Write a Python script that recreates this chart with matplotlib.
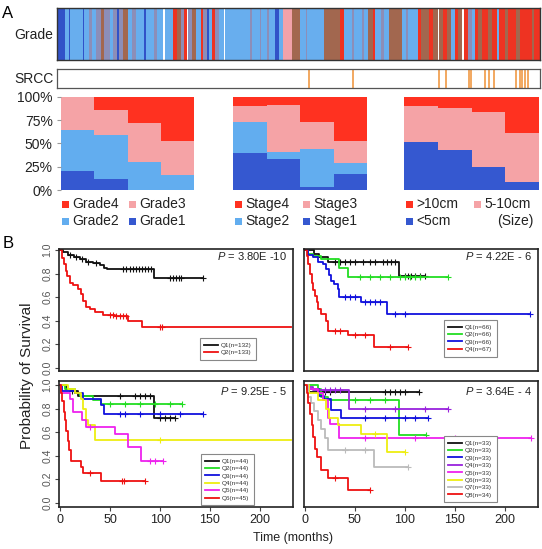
import numpy as np
import matplotlib
matplotlib.use('Agg')
import matplotlib.pyplot as plt
from matplotlib.patches import Rectangle

plt.rcParams['font.family'] = ['Liberation Sans', 'DejaVu Sans']
plt.rcParams['mathtext.fontset'] = 'custom'
plt.rcParams['mathtext.it'] = 'Liberation Sans:italic'
plt.rcParams['mathtext.rm'] = 'Liberation Sans'

W, H = 542, 549

# ---------------- data ----------------
# Grade strip: (category code, relative width) read left to right
strip_segments = [("D", 20), ("L", 10), ("D", 3), ("L", 30), ("D", 3), ("L", 12), ("G", 8), ("L", 10),
                  ("G", 12), ("B", 8), ("G", 15), ("L", 6), ("G", 10), ("D", 4), ("G", 10), ("B", 12),
                  ("L", 10), ("G", 10), ("L", 20), ("D", 4), ("L", 20), ("G", 8), ("L", 15), ("W", 4),
                  ("L", 20), ("R", 10), ("B", 10), ("G", 8), ("R", 6), ("W", 4), ("G", 8), ("B", 10),
                  ("L", 12), ("R", 6), ("G", 10), ("D", 4), ("L", 8), ("R", 8), ("G", 8), ("L", 14),
                  ("W", 3), ("L", 60), ("G", 4), ("L", 20), ("G", 4), ("L", 15), ("G", 4), ("L", 15),
                  ("D", 8), ("L", 12), ("P", 20), ("B", 20), ("L", 15), ("G", 4), ("L", 40), ("B", 40),
                  ("R", 10), ("L", 20), ("G", 4), ("L", 20), ("G", 4), ("L", 10), ("B", 12), ("R", 6),
                  ("L", 15), ("G", 6), ("L", 14), ("B", 30), ("L", 10), ("G", 5), ("L", 25), ("R", 8),
                  ("B", 20), ("R", 8), ("B", 12), ("W", 4), ("B", 10), ("R", 10), ("B", 10), ("L", 8),
                  ("R", 8), ("B", 10), ("W", 4), ("R", 10), ("G", 10), ("L", 8), ("R", 8), ("B", 8),
                  ("R", 15), ("B", 10), ("R", 12), ("L", 6), ("R", 14), ("B", 8), ("R", 20), ("B", 8),
                  ("R", 30), ("B", 6), ("R", 14)]
# SRCC positive samples, position along strip (percent)
srcc_positions = [52.1, 61.3, 79.1, 80.5, 85.4, 85.7, 88.7, 89.5, 90.4, 95.0, 95.8, 96.2, 96.8, 97.5]

# stacked percentages (bottom -> top)
grade_pct = {"Grade1": [20.5, 11.5, 0, 0], "Grade2": [44, 47, 29.5, 16.5],
             "Grade3": [35.5, 27.5, 42.5, 36.5], "Grade4": [0, 14, 28, 47]}
stage_pct = {"Stage1": [40, 33, 3, 17], "Stage2": [33, 8, 40.5, 11.5],
             "Stage3": [17, 50, 29, 24.5], "Stage4": [10, 9, 27.5, 47]}
size_pct = {"<5cm": [51, 42.5, 24.8, 8.9], "5-10cm": [38.7, 45, 59.2, 52],
            ">10cm": [10.3, 12.5, 16, 39.1]}
pct_ticks = [0, 25, 50, 75, 100]
pct_labels = ["0%", "25%", "50%", "75%", "100%"]

# Kaplan-Meier panels
tl_labels = ["Q1(n=132)", "Q2(n=133)"]
tl_times = [[0, 3, 8, 14, 20, 26, 33, 40, 44, 47, 94],
            [0, 2, 4, 6, 7, 10, 13, 18, 21, 23, 26, 30, 35, 43, 55, 68, 82]]
tl_surv = [[1, 0.98, 0.96, 0.94, 0.92, 0.90, 0.89, 0.87, 0.85, 0.835, 0.765],
           [1, 0.93, 0.88, 0.82, 0.78, 0.72, 0.70, 0.67, 0.63, 0.57, 0.52, 0.50, 0.47, 0.45, 0.44, 0.40, 0.35]]
tl_end = [143, 231]
tl_cens = [[10, 16, 22, 28, 36, 63, 66, 70, 73, 76, 79, 82, 85, 88, 91, 110, 113, 116, 119, 121, 143],
           [50, 53, 56, 60, 63, 66, 100, 102]]
tl_p = "3.80E -10"

tr_labels = ["Q1(n=66)", "Q2(n=66)", "Q3(n=66)", "Q4(n=67)"]
tr_times = [[0, 9, 14, 23, 94], [0, 3, 8, 16, 34, 43],
            [0, 3, 8, 13, 18, 21, 24, 26, 29, 33, 34, 56, 82],
            [0, 2, 3, 5, 7, 8, 10, 12, 13, 16, 21, 23, 43, 69]]
tr_surv = [[1, 0.97, 0.94, 0.90, 0.78], [1, 0.97, 0.95, 0.92, 0.85, 0.775],
           [1, 0.96, 0.94, 0.90, 0.88, 0.84, 0.79, 0.74, 0.71, 0.67, 0.60, 0.555, 0.46],
           [1, 0.95, 0.88, 0.80, 0.72, 0.66, 0.61, 0.56, 0.50, 0.46, 0.40, 0.31, 0.28, 0.18]]
tr_end = [120, 143, 225, 103]
tr_cens = [[30, 35, 40, 45, 50, 58, 65, 70, 78, 82, 86, 90, 100, 103, 106, 110, 115, 120],
           [55, 65, 75, 85, 95, 100, 105, 110, 115, 143],
           [40, 45, 50, 60, 65, 70, 75, 90, 100, 225],
           [30, 35, 50, 60, 85, 103]]
tr_p = "4.22E - 6"

bl_labels = ["Q1(n=44)", "Q2(n=44)", "Q3(n=44)", "Q4(n=44)", "Q5(n=44)", "Q6(n=45)"]
bl_times = [[0, 6, 11, 18, 94], [0, 5, 15, 20, 33, 41], [0, 2, 15, 23, 41, 44],
            [0, 8, 15, 21, 23, 26, 28, 35], [0, 1, 10, 13, 22, 26, 55, 68, 81],
            [0, 1, 2, 4, 5, 6, 8, 9, 11, 21, 23, 41]]
bl_surv = [[1, 0.97, 0.95, 0.905, 0.72], [1, 0.97, 0.93, 0.91, 0.87, 0.84],
           [1, 0.95, 0.93, 0.88, 0.83, 0.75], [1, 0.97, 0.93, 0.88, 0.80, 0.70, 0.66, 0.53],
           [1, 0.93, 0.88, 0.77, 0.70, 0.645, 0.58, 0.47, 0.35],
           [1, 0.93, 0.86, 0.77, 0.70, 0.61, 0.52, 0.45, 0.35, 0.30, 0.25, 0.185]]
bl_end = [115, 122, 143, 231, 103, 85]
bl_cens = [[12, 60, 75, 80, 85, 90, 100, 105, 110, 115], [50, 65, 80, 95, 110, 122],
           [60, 65, 80, 100, 120, 143], [100], [30, 90, 95, 103], [30, 62, 64, 85]]
bl_p = "9.25E - 5"

br_labels = ["Q1(n=33)", "Q2(n=33)", "Q3(n=33)", "Q4(n=33)", "Q5(n=33)", "Q6(n=33)", "Q7(n=33)", "Q8(n=34)"]
br_times = [[0, 2, 4], [0, 13, 16, 23, 94], [0, 3, 14, 19, 26, 36], [0, 3, 8, 44],
            [0, 3, 13, 18, 23, 25, 34], [0, 4, 13, 21, 24, 33, 56, 82],
            [0, 3, 6, 9, 13, 16, 20, 23, 69], [0, 2, 3, 5, 7, 8, 10, 12, 16, 23, 43]]
br_surv = [[1, 0.97, 0.94], [1, 0.97, 0.90, 0.87, 0.575], [1, 0.97, 0.91, 0.88, 0.79, 0.72],
           [1, 0.98, 0.955, 0.80], [1, 0.97, 0.93, 0.87, 0.72, 0.67, 0.55],
           [1, 0.93, 0.87, 0.80, 0.72, 0.66, 0.585, 0.43],
           [1, 0.90, 0.85, 0.78, 0.70, 0.63, 0.55, 0.45, 0.30],
           [1, 0.93, 0.85, 0.75, 0.66, 0.56, 0.46, 0.39, 0.28, 0.21, 0.11]]
br_end = [114, 121, 123, 143, 226, 100, 103, 65]
br_cens = [[15, 20, 25, 80, 85, 90, 95, 100, 114], [50, 65, 80, 121], [60, 80, 100, 110, 123],
           [20, 25, 30, 35, 60, 90, 120, 143], [60, 110, 150, 226], [70, 100], [40, 60, 103], [30, 65]]
br_p = "3.64E - 4"

km_ticks_y = [0, 0.2, 0.4, 0.6, 0.8, 1.0]
km_ticklabels_y = ["0.0", "0.2", "0.4", "0.6", "0.8", "1.0"]
km_ticks_x = [0, 50, 100, 150, 200]

# ---------------- styles ----------------
strip_colors = {"D": "#3152C8", "L": "#68AEEE", "R": "#EE3322", "P": "#F2A2AA",
                "B": "#A2674F", "G": "#8C8EB8", "W": "#FFFFFF"}
c_dark, c_light, c_pink, c_red = "#3558D0", "#62ADEF", "#F5A3A6", "#FF3120"
tl_colors = ["#111111", "#EE1111"]
tr_colors = ["#111111", "#22DD22", "#1111DD", "#EE1111"]
bl_colors = ["#111111", "#22DD22", "#1111DD", "#EEEE11", "#EE22EE", "#EE1111"]
br_colors = ["#111111", "#22DD22", "#1111DD", "#9922DD", "#EE22EE", "#EEEE11", "#BBBBBB", "#EE1111"]

fig = plt.figure(figsize=(W / 100, H / 100), dpi=100)


def px_axes(x0, y0, x1, y1):
    return fig.add_axes([x0 / W, 1 - y1 / H, (x1 - x0) / W, (y1 - y0) / H])


# ---- Grade strip ----
ax = px_axes(57, 8, 540, 60)
codes = [c for c, w in strip_segments]
widths = np.array([w for c, w in strip_segments], dtype=float)
starts = np.concatenate([[0], np.cumsum(widths)[:-1]])
ax.bar(starts, 1, width=widths, align='edge', color=[strip_colors[c] for c in codes], linewidth=0)
ax.set_xlim(0, widths.sum())
ax.set_ylim(0, 1)
ax.set_xticks([]); ax.set_yticks([])
for s in ax.spines.values():
    s.set_color('#333333'); s.set_linewidth(1.0)

# ---- SRCC strip ----
ax = px_axes(57, 69, 540, 88)
ax.vlines(srcc_positions, 0, 1, color='#F09A45', lw=1.2)
ax.set_xlim(0, 100); ax.set_ylim(0, 1)
ax.set_xticks([]); ax.set_yticks([])
for s in ax.spines.values():
    s.set_color('#555555'); s.set_linewidth(0.9)


# ---- stacked bars ----
def stacked(box, pct, colors, ylabels):
    a = px_axes(*box)
    x = np.arange(4)
    bottom = np.zeros(4)
    for (k, v), c in zip(pct.items(), colors):
        v = np.array(v, dtype=float)
        a.bar(x, v, bottom=bottom, width=1.0, color=c, linewidth=0)
        bottom += v
    a.set_xlim(-0.5, 3.5)
    a.set_ylim(0, 100)
    a.set_xticks([])
    for s in a.spines.values():
        s.set_visible(False)
    if ylabels:
        a.set_yticks(pct_ticks)
        a.set_yticklabels(pct_labels, fontsize=10, color='#222222')
        a.tick_params(axis='y', length=3, color='#999999', pad=3)
    else:
        a.set_yticks([])
    return a


stacked((61, 96.7, 194, 190), grade_pct, [c_dark, c_light, c_pink, c_red], True)
stacked((233, 96.7, 367, 190), stage_pct, [c_dark, c_light, c_pink, c_red], False)
stacked((404, 96.7, 539, 190), size_pct, [c_dark, c_pink, c_red], False)


# ---- KM panels ----
def km_panel(box, times, surv, ends, cens, colors, labels, pval, ylim, yticks, xticks, leg_xy, p_y):
    a = px_axes(*box)
    for t, s, e, cs, col in zip(times, surv, ends, cens, colors):
        tt = np.append(t, e)
        ss = np.append(s, s[-1])
        a.step(tt, ss, where='post', color=col, lw=1.3)
        idx = np.searchsorted(t, cs, side='right') - 1
        a.plot(cs, np.array(s)[idx], '+', color=col, ms=4, mew=0.8)
    a.set_xlim(-1, 233.5)
    a.set_ylim(*ylim)
    for s in a.spines.values():
        s.set_color('#222222'); s.set_linewidth(1.2)
    if yticks:
        a.set_yticks(km_ticks_y)
        a.set_yticklabels(km_ticklabels_y, rotation=90, va='center', fontsize=7.5, color='#555555')
        a.tick_params(axis='y', length=3, width=0.8, pad=2, color='#444444')
    else:
        a.set_yticks([])
    if xticks:
        a.set_xticks(km_ticks_x)
        a.set_xticklabels([str(v) for v in km_ticks_x], fontsize=9, color='#222222')
        a.tick_params(axis='x', length=3, width=0.8, pad=2, color='#444444')
    else:
        a.set_xticks([])
    a.text(0.972, p_y, r"$\mathit{P}$ = " + pval, transform=a.transAxes,
           ha='right', va='center', fontsize=8, color='#222222')
    handles = [plt.Line2D([], [], color=c, lw=1.3) for c in colors]
    leg = a.legend(handles, labels, loc='upper left',
                   bbox_to_anchor=(leg_xy[0] / W, 1 - leg_xy[1] / H), bbox_transform=fig.transFigure,
                   fontsize=4.6, handlelength=2.1, handletextpad=0.5, labelspacing=0.3,
                   borderpad=0.7, borderaxespad=0, frameon=True, fancybox=False, framealpha=1)
    leg.get_frame().set_edgecolor('#888888')
    leg.get_frame().set_linewidth(0.8)
    for tx in leg.get_texts():
        tx.set_color('#333333')
    return a


top_ylim = (-0.028, 1.013)
bot_ylim = (-0.037, 1.034)
km_panel((59.3, 248.5, 293.3, 371), tl_times, tl_surv, tl_end, tl_cens, tl_colors, tl_labels, tl_p,
         top_ylim, True, False, (200, 338), 0.935)
km_panel((304, 248.5, 538, 371), tr_times, tr_surv, tr_end, tr_cens, tr_colors, tr_labels, tr_p,
         top_ylim, False, False, (444, 320), 0.935)
km_panel((59.3, 381, 293.3, 507), bl_times, bl_surv, bl_end, bl_cens, bl_colors, bl_labels, bl_p,
         bot_ylim, True, True, (201, 454), 0.92)
km_panel((304, 381, 538, 507), br_times, br_surv, br_end, br_cens, br_colors, br_labels, br_p,
         bot_ylim, False, True, (444, 436), 0.92)

# ---- overlay for labels & bar legends ----
ov = fig.add_axes([0, 0, 1, 1])
ov.set_xlim(0, W); ov.set_ylim(H, 0); ov.axis('off')
ov.text(8, 13, "A", fontsize=12, ha='center', va='center')
ov.text(8, 244, "B", fontsize=12, ha='center', va='center')
ov.text(34, 35, "Grade", fontsize=10, ha='center', va='center', color='#222222')
ov.text(34, 79, "SRCC", fontsize=10, ha='center', va='center', color='#222222')
ov.text(27, 376, "Probability of Survival", fontsize=11, rotation=90, ha='center', va='center',
        color='#222222')
ov.text(293, 538, "Time (months)", fontsize=9, ha='center', va='center', color='#222222')

legend_items = [
    (62, 204, c_red, "Grade4"), (129, 204, c_pink, "Grade3"),
    (62, 221, c_light, "Grade2"), (129, 221, c_dark, "Grade1"),
    (235, 204, c_red, "Stage4"), (303, 204, c_pink, "Stage3"),
    (235, 221, c_light, "Stage2"), (303, 221, c_dark, "Stage1"),
    (406, 204, c_red, ">10cm"), (474, 204, c_pink, "5-10cm"),
    (406, 221, c_dark, "<5cm"),
]
for x, y, c, lab in legend_items:
    ov.add_patch(Rectangle((x, y - 3.5), 7, 7, color=c, lw=0))
    ov.text(x + 10, y, lab, fontsize=10, ha='left', va='center', color='#222222')
ov.text(533, 221, "(Size)", fontsize=10, ha='right', va='center', color='#222222')

fig.savefig("out.png", dpi=100)
